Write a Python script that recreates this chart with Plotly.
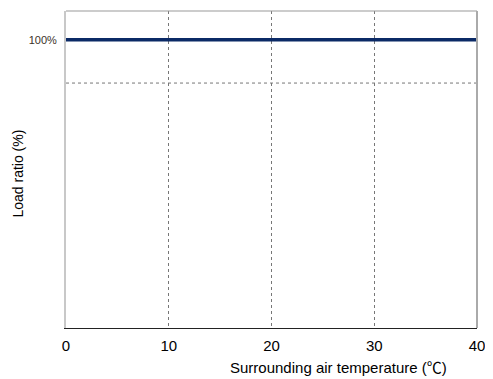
import plotly.graph_objects as go

# derating curve: load ratio vs surrounding air temperature
temperatura = [0, 40]
carga = [100, 100]

x_ticks = [0, 10, 20, 30, 40]
y_ticks = [100]
y_tick_labels = ["100%"]
nivel_guia = 85  # dashed reference line

# the page body adds ~8px offset, margins compensate
fig = go.Figure()
fig.add_trace(go.Scatter(
    x=temperatura, y=carga, mode='lines',
    line=dict(color='#0b2a66', width=3.5),
    showlegend=False, hoverinfo='skip'
))

fig.update_layout(
    width=485, height=371,
    paper_bgcolor='white', plot_bgcolor='white',
    margin=dict(l=58, r=16, t=3, b=51),
    font=dict(family='Liberation Sans, Arial, sans-serif', size=12, color='#000'),
    xaxis=dict(
        range=[0, 40], tickvals=x_ticks, showgrid=True,
        gridcolor='#777', griddash='dot', gridwidth=1,
        showline=True, linecolor='#222', linewidth=1,
        ticks='', ticklen=0, zeroline=False, ticklabelstandoff=4,
        tickfont=dict(size=15, color='#000'),
    ),
    yaxis=dict(
        range=[0, 110], tickvals=y_ticks, ticktext=y_tick_labels,
        showgrid=False, showline=True, linecolor='#c8c8c8', linewidth=2,
        ticks='', zeroline=False, ticklabelstandoff=5,
        tickfont=dict(size=11, color='#3b3228'),
    ),
    shapes=[
        dict(type='line', xref='paper', yref='y', x0=0, x1=1, y0=nivel_guia, y1=nivel_guia,
             line=dict(color='#777', width=1, dash='dot')),
        dict(type='line', xref='paper', yref='paper', x0=0, x1=1, y0=1, y1=1,
             line=dict(color='#999', width=1)),
        dict(type='line', xref='paper', yref='paper', x0=1, x1=1, y0=0, y1=1,
             line=dict(color='#aaa', width=2)),
    ],
    annotations=[
        dict(text='Surrounding air temperature (<span style="font-family:Noto Sans CJK JP">℃</span>)',
             xref='paper', yref='paper',
             x=0.663, y=-0.12, xanchor='center', yanchor='middle', showarrow=False,
             font=dict(size=15, color='#000')),
        dict(text='Load ratio (%)', xref='paper', yref='paper',
             x=-0.117, y=0.487, xanchor='center', yanchor='middle', textangle=-90,
             showarrow=False, font=dict(size=14, color='#000')),
    ],
)

fig.write_html("out.html")
